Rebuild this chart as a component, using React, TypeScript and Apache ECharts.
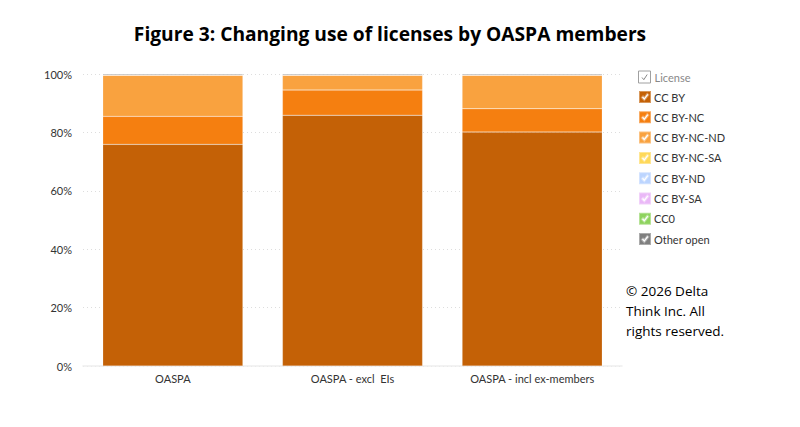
import React, { useEffect, useRef } from 'react'
import * as echarts from 'echarts'

const categories = ['OASPA', 'OASPA - excl  EIs', 'OASPA - incl ex-members']
const licenses = ['CC BY', 'CC BY-NC', 'CC BY-NC-ND', 'CC BY-NC-SA', 'CC BY-ND', 'CC BY-SA', 'CC0', 'Other open']
const colors = ['#c46106', '#f57f10', '#f9a23f', '#ffd95a', '#bcd5ff', '#eab8f7', '#8ed35e', '#7f7f7f']

// share of outputs, % per category
const ccBy = [75.9, 85.9, 80.1]
const ccByNc = [9.6, 8.6, 8.0]
const ccByNcNd = [14.1, 5.1, 11.5]
const ccByNcSa = [0.1, 0.1, 0.1]
const ccByNd = [0, 0, 0]
const ccBySa = [0, 0, 0]
const cc0 = [0, 0, 0]
const otherOpen = [0.3, 0.3, 0.3]
const seriesValues = [ccBy, ccByNc, ccByNcNd, ccByNcSa, ccByNd, ccBySa, cc0, otherOpen]

const yTicks = [0, 20, 40, 60, 80, 100]

// square with a check mark cut out of it
const checkIcon =
  'path://M0 0H12V12H0Z M3 6.5L5.3 9L9.3 3.8L8.3 3L5.3 7L4 5.5Z'

const App = () => {
  const chartRef = useRef<HTMLDivElement>(null)

  useEffect(() => {
    document.body.style.margin = '0'
    if (!chartRef.current) return
    const chart = echarts.init(chartRef.current, undefined, { renderer: 'svg' })

    const option = {
      animation: false,
      title: {
        text: 'Figure 3: Changing use of licenses by OASPA members',
        left: 385,
        textAlign: 'center',
        top: 19,
        textStyle: {
          fontFamily: 'Open Sans',
          fontSize: 19.2,
          fontWeight: 'bold',
          color: '#000',
        },
      },
      legend: {
        orient: 'vertical',
        left: 633,
        top: 85,
        itemWidth: 12,
        itemHeight: 12,
        itemGap: 6.3,
        icon: checkIcon,
        data: licenses,
        textStyle: {
          fontFamily: 'Lato',
          fontSize: 11,
          color: '#333',
          lineHeight: 14,
          padding: [0, 0, 0, -2],
        },
        selectedMode: false,
      },
      grid: {
        left: 83,
        right: 178,
        top: 74,
        bottom: 61,
      },
      xAxis: {
        type: 'category',
        data: categories,
        axisLine: { lineStyle: { color: '#eeeeee', width: 1.5 } },
        axisTick: { show: false },
        axisLabel: {
          fontFamily: 'Lato',
          fontSize: 11,
          color: '#333',
          margin: 7,
        },
      },
      yAxis: {
        type: 'value',
        min: yTicks[0],
        max: yTicks[yTicks.length - 1],
        interval: 20,
        axisLine: { show: false },
        axisTick: { show: false },
        axisLabel: {
          formatter: '{value}%',
          fontFamily: 'Lato',
          fontSize: 11,
          color: '#333',
          margin: 11,
        },
        splitLine: { lineStyle: { color: '#dddddd', type: [1, 3], width: 1 } },
      },
      series: licenses.map((name, i) => ({
        name,
        type: 'bar',
        stack: 'total',
        barWidth: '78%',
        data: seriesValues[i],
        itemStyle: {
          color: colors[i],
          borderColor: 'rgba(255,255,255,0.35)',
          borderWidth: 0.5,
        },
      })),
      graphic: [
        {
          type: 'group',
          left: 638,
          top: 70,
          children: [
            {
              type: 'rect',
              shape: { x: 0, y: 0, width: 12, height: 12 },
              style: { fill: '#fff', stroke: '#a0a0a0', lineWidth: 1 },
            },
            {
              type: 'polyline',
              shape: { points: [[3.5, 6.5], [5.3, 8.7], [8.7, 3.5]] },
              style: { stroke: '#888', lineWidth: 1, fill: null },
            },
            {
              type: 'text',
              x: 16,
              y: -1,
              style: {
                text: 'License',
                fontFamily: 'Lato',
                fontSize: 11,
                fill: '#888',
                lineHeight: 14,
              },
            },
          ],
        },
        {
          type: 'text',
          left: 626,
          top: 281,
          style: {
            text: '© 2026 Delta\nThink Inc. All\nrights reserved.',
            fontFamily: 'Open Sans',
            fontSize: 13.5,
            lineHeight: 20,
            fill: '#000',
          },
        },
      ],
    }

    chart.setOption(option)
    return () => {
      chart.dispose()
    }
  }, [])

  return <div ref={chartRef} style={{ width: 800, height: 427 }} />
}

export default App
